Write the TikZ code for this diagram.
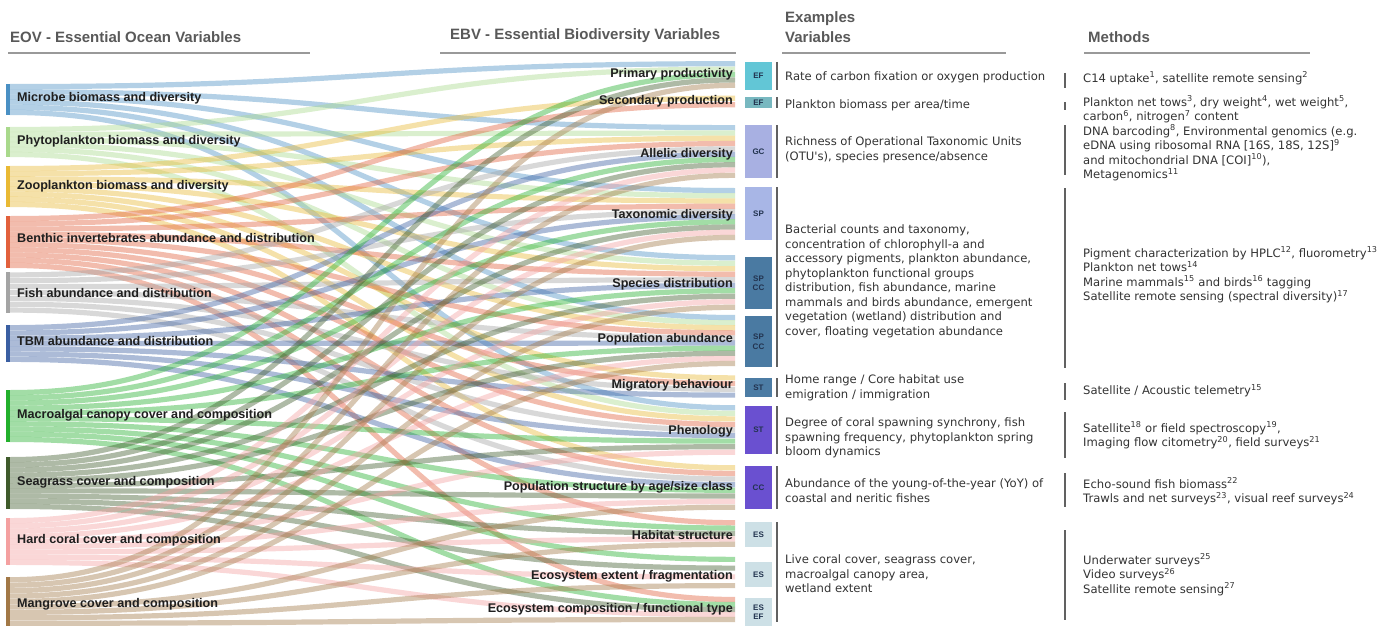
\documentclass[tikz,border=0pt]{standalone}
\usepackage{fontspec}
\newfontfamily\lab{Liberation Sans}
\newfontfamily\dv{DejaVu Sans}
\definecolor{eov1}{HTML}{4A90C4}
\definecolor{eov2}{HTML}{A9D98C}
\definecolor{eov3}{HTML}{E9B934}
\definecolor{eov4}{HTML}{E2603C}
\definecolor{eov5}{HTML}{A4A4A4}
\definecolor{eov6}{HTML}{3A5FA2}
\definecolor{eov7}{HTML}{22B02C}
\definecolor{eov8}{HTML}{3F5B2B}
\definecolor{eov9}{HTML}{F4A0A0}
\definecolor{eov10}{HTML}{A27846}
\definecolor{boxtext}{HTML}{22334F}
\begin{document}
\begin{tikzpicture}[x=1pt,y=-1pt,
  flow/.style={line width=5.2pt, draw opacity=0.42},
  eovlab/.style={anchor=west, inner sep=0, font=\lab\bfseries\fontsize{12.6}{14}\selectfont, text=black!88},
  ebvlab/.style={anchor=east, inner sep=0, font=\lab\bfseries\fontsize{12.6}{14}\selectfont, text=black!88},
  hdr/.style={anchor=west, inner sep=0, font=\lab\bfseries\fontsize{15}{20}\selectfont, text=black!65, align=left},
  hline/.style={draw=black!40, line width=1.6pt},
  ebox/.style={minimum width=27pt, inner sep=0, font=\lab\bfseries\fontsize{8}{9.5}\selectfont, text=boxtext, align=center},
  sepline/.style={draw=black!62, line width=1.3pt},
  body/.style={anchor=north west, inner sep=0, align=left, font=\dv\fontsize{11.6}{14.5}\selectfont, text=black!80}]

\useasboundingbox (0,0) rectangle (1390,626);
\fill[white] (0,0) rectangle (1390,626);

% ---- slot coordinates, left (EOV) ----
\foreach \s/\a/\b/\n in {1/84/115/6, 2/127/157/6, 3/166/207/8, 4/216/268/10, 5/272/313/7,
  6/325/362/7, 7/390/442/10, 8/457/509/10, 9/518/565/9, 10/577/626/9} {
  \foreach \i in {1,...,\n} {
    \coordinate (L\s-\i) at (10, {\a+(\i-0.5)*(\b-\a)/\n});
  }
  \expandafter\xdef\csname sc\s\endcsname{0}
}
% ---- slot coordinates, right (EBV) ----
\foreach \t/\a/\b/\n in {1/61/88/5, 2/95/108/2, 3/125/178/10, 4/188/240/10, 5/255/310/10,
  6/315/366/10, 7/375/398/4, 8/405/455/9, 9/465/510/8, 10/520/547/5, 11/555/590/4, 12/597/622/5} {
  \foreach \i in {1,...,\n} {
    \coordinate (R\t-\i) at (735, {\a+(\i-0.5)*(\b-\a)/\n});
  }
  \expandafter\xdef\csname tc\t\endcsname{0}
}

% ---- flows ----
\foreach \s/\t in {1/1,1/3,1/4,1/5,1/6,1/8,
  2/1,2/3,2/4,2/5,2/6,2/8,
  3/2,3/3,3/4,3/5,3/6,3/7,3/8,3/9,
  4/2,4/3,4/4,4/5,4/6,4/7,4/8,4/9,4/10,4/12,
  5/3,5/4,5/5,5/6,5/7,5/8,5/9,
  6/3,6/4,6/5,6/6,6/7,6/8,6/9,
  7/1,7/3,7/4,7/5,7/6,7/8,7/9,7/10,7/11,7/12,
  8/1,8/3,8/4,8/5,8/6,8/8,8/9,8/10,8/11,8/12,
  9/3,9/4,9/5,9/6,9/8,9/9,9/10,9/11,9/12,
  10/1,10/3,10/4,10/5,10/6,10/9,10/10,10/11,10/12} {
  \pgfmathtruncatemacro\si{\csname sc\s\endcsname+1}
  \expandafter\xdef\csname sc\s\endcsname{\si}
  \pgfmathtruncatemacro\ti{\csname tc\t\endcsname+1}
  \expandafter\xdef\csname tc\t\endcsname{\ti}
  \draw[flow, draw=eov\s] (L\s-\si) .. controls +(362,0) and +(-362,0) .. (R\t-\ti);
}

% ---- left bars ----
\foreach \s/\a/\b in {1/84/115, 2/127/157, 3/166/207, 4/216/268, 5/272/313,
  6/325/362, 7/390/442, 8/457/509, 9/518/565, 10/577/626} {
  \fill[eov\s] (6,\a) rectangle (10,\b);
}

% ---- headers ----
\node[hdr] (h1) at (10,37) {EOV - Essential Ocean Variables};
\node[hdr] (h2) at (450,36) {EBV - Essential Biodiversity Variables};
\node[hdr] (h3) at (785,27) {Examples\\Variables};
\node[hdr] (h4) at (1088,37) {Methods};
\draw[hline] (8,53) -- (310,53);
\draw[hline] (440,53) -- (736,53);
\draw[hline] (782,53) -- (1006,53);
\draw[hline] (1084,53) -- (1310,53);

% ---- EOV labels ----
\node[eovlab] (e1) at (17,98) {Microbe biomass and diversity};
\node[eovlab] (e2) at (17,141) {Phytoplankton biomass and diversity};
\node[eovlab] (e3) at (17,186) {Zooplankton biomass and diversity};
\node[eovlab] (e4) at (17,238) {Benthic invertebrates abundance and distribution};
\node[eovlab] (e5) at (17,293) {Fish abundance and distribution};
\node[eovlab] (e6) at (17,341) {TBM abundance and distribution};
\node[eovlab] (e7) at (17,415) {Macroalgal canopy cover and composition};
\node[eovlab] (e8) at (17,482) {Seagrass cover and composition};
\node[eovlab] (e9) at (17,540) {Hard coral cover and composition};
\node[eovlab] (e10) at (17,604) {Mangrove cover and composition};

% ---- EBV labels ----
\node[ebvlab] (v1) at (733,74) {Primary productivity};
\node[ebvlab] (v2) at (733,101) {Secondary production};
\node[ebvlab] (v3) at (733,154) {Allelic diversity};
\node[ebvlab] (v4) at (733,215) {Taxonomic diversity};
\node[ebvlab] (v5) at (733,284) {Species distribution};
\node[ebvlab] (v6) at (733,339) {Population abundance};
\node[ebvlab] (v7) at (733,385) {Migratory behaviour};
\node[ebvlab] (v8) at (733,431) {Phenology};
\node[ebvlab] (v9) at (733,487) {Population structure by age/size class};
\node[ebvlab] (v10) at (733,535) {Habitat structure};
\node[ebvlab] (v11) at (733,576) {Ecosystem extent / fragmentation};
\node[ebvlab] (v12) at (733,609) {Ecosystem composition / functional type};

% ---- class boxes ----
\node[ebox, fill={rgb,255:red,98;green,198;blue,214}, minimum height=28pt] (b1) at (758.5,76) {EF};
\node[ebox, fill={rgb,255:red,120;green,184;blue,192}, minimum height=11pt] (b2) at (758.5,102.5) {EF};
\node[ebox, fill={rgb,255:red,168;green,176;blue,226}, minimum height=53pt] (b3) at (758.5,151.5) {GC};
\node[ebox, fill={rgb,255:red,168;green,182;blue,230}, minimum height=53pt] (b4) at (758.5,213.5) {SP};
\node[ebox, fill={rgb,255:red,74;green,122;blue,162}, minimum height=52pt] (b5) at (758.5,283) {SP\\CC};
\node[ebox, fill={rgb,255:red,74;green,122;blue,162}, minimum height=51pt] (b6) at (758.5,341.5) {SP\\CC};
\node[ebox, fill={rgb,255:red,76;green,124;blue,164}, minimum height=19pt] (b7) at (758.5,387.5) {ST};
\node[ebox, fill={rgb,255:red,106;green,80;blue,208}, minimum height=48pt] (b8) at (758.5,430) {ST};
\node[ebox, fill={rgb,255:red,106;green,80;blue,208}, minimum height=43pt] (b9) at (758.5,487.5) {CC};
\node[ebox, fill={rgb,255:red,205;green,224;blue,230}, minimum height=25pt] (b10) at (758.5,534.5) {ES};
\node[ebox, fill={rgb,255:red,205;green,224;blue,230}, minimum height=25pt] (b11) at (758.5,574.5) {ES};
\node[ebox, fill={rgb,255:red,205;green,224;blue,230}, minimum height=28pt] (b12) at (758.5,612) {ES\\EF};

% ---- separator lines ----
\foreach \a/\b in {62/90, 97/108, 125/178, 187/367, 378/397, 406/454, 466/509, 522/622} {
  \draw[sepline] (777,\a) -- (777,\b);
}
\foreach \a/\b in {73/88, 102/110, 125/175, 188/368, 383/400, 412/458, 473/507, 530/620} {
  \draw[sepline] (1065,\a) -- (1065,\b);
}

% ---- example variables ----
\node[body] (x1) at (785,71.5) {Rate of carbon fixation or oxygen production};
\node[body] (x2) at (785,99.5) {Plankton biomass per area/time};
\node[body] (x3) at (785,136.5) {Richness of Operational Taxonomic Units\\(OTU's), species presence/absence};
\node[body] (x4) at (785,224.5) {Bacterial counts and taxonomy,\\concentration of chlorophyll-a and\\accessory pigments, plankton abundance,\\phytoplankton functional groups\\distribution, fish abundance, marine\\mammals and birds abundance, emergent\\vegetation (wetland) distribution and\\cover, floating vegetation abundance};
\node[body] (x5) at (785,374.5) {Home range / Core habitat use\\emigration / immigration};
\node[body] (x6) at (785,417.5) {Degree of coral spawning synchrony, fish\\spawning frequency, phytoplankton spring\\bloom dynamics};
\node[body] (x7) at (785,478.5) {Abundance of the young-of-the-year (YoY) of\\coastal and neritic fishes};
\node[body] (x8) at (785,554.5) {Live coral cover, seagrass cover,\\macroalgal canopy area,\\wetland extent};

% ---- methods ----
\node[body] (m1) at (1083,71.5) {C14 uptake\textsuperscript{1}, satellite remote sensing\textsuperscript{2}};
\node[body] (m2) at (1083,95.5) {Plankton net tows\textsuperscript{3}, dry weight\textsuperscript{4}, wet weight\textsuperscript{5},\\carbon\textsuperscript{6}, nitrogen\textsuperscript{7} content};
\node[body] (m3) at (1083,124.5) {DNA barcoding\textsuperscript{8}, Environmental genomics (e.g.\\eDNA using ribosomal RNA [16S, 18S, 12S]\textsuperscript{9}\\and mitochondrial DNA [COI]\textsuperscript{10}),\\Metagenomics\textsuperscript{11}};
\node[body] (m4) at (1083,246.5) {Pigment characterization by HPLC\textsuperscript{12}, fluorometry\textsuperscript{13}\\Plankton net tows\textsuperscript{14}\\Marine mammals\textsuperscript{15} and birds\textsuperscript{16} tagging\\Satellite remote sensing (spectral diversity)\textsuperscript{17}};
\node[body] (m5) at (1083,384.5) {Satellite / Acoustic telemetry\textsuperscript{15}};
\node[body] (m6) at (1083,421.5) {Satellite\textsuperscript{18} or field spectroscopy\textsuperscript{19},\\Imaging flow citometry\textsuperscript{20}, field surveys\textsuperscript{21}};
\node[body] (m7) at (1083,477.5) {Echo-sound fish biomass\textsuperscript{22}\\Trawls and net surveys\textsuperscript{23}, visual reef surveys\textsuperscript{24}};
\node[body] (m8) at (1083,553.5) {Underwater surveys\textsuperscript{25}\\Video surveys\textsuperscript{26}\\Satellite remote sensing\textsuperscript{27}};
\end{tikzpicture}
\end{document}
